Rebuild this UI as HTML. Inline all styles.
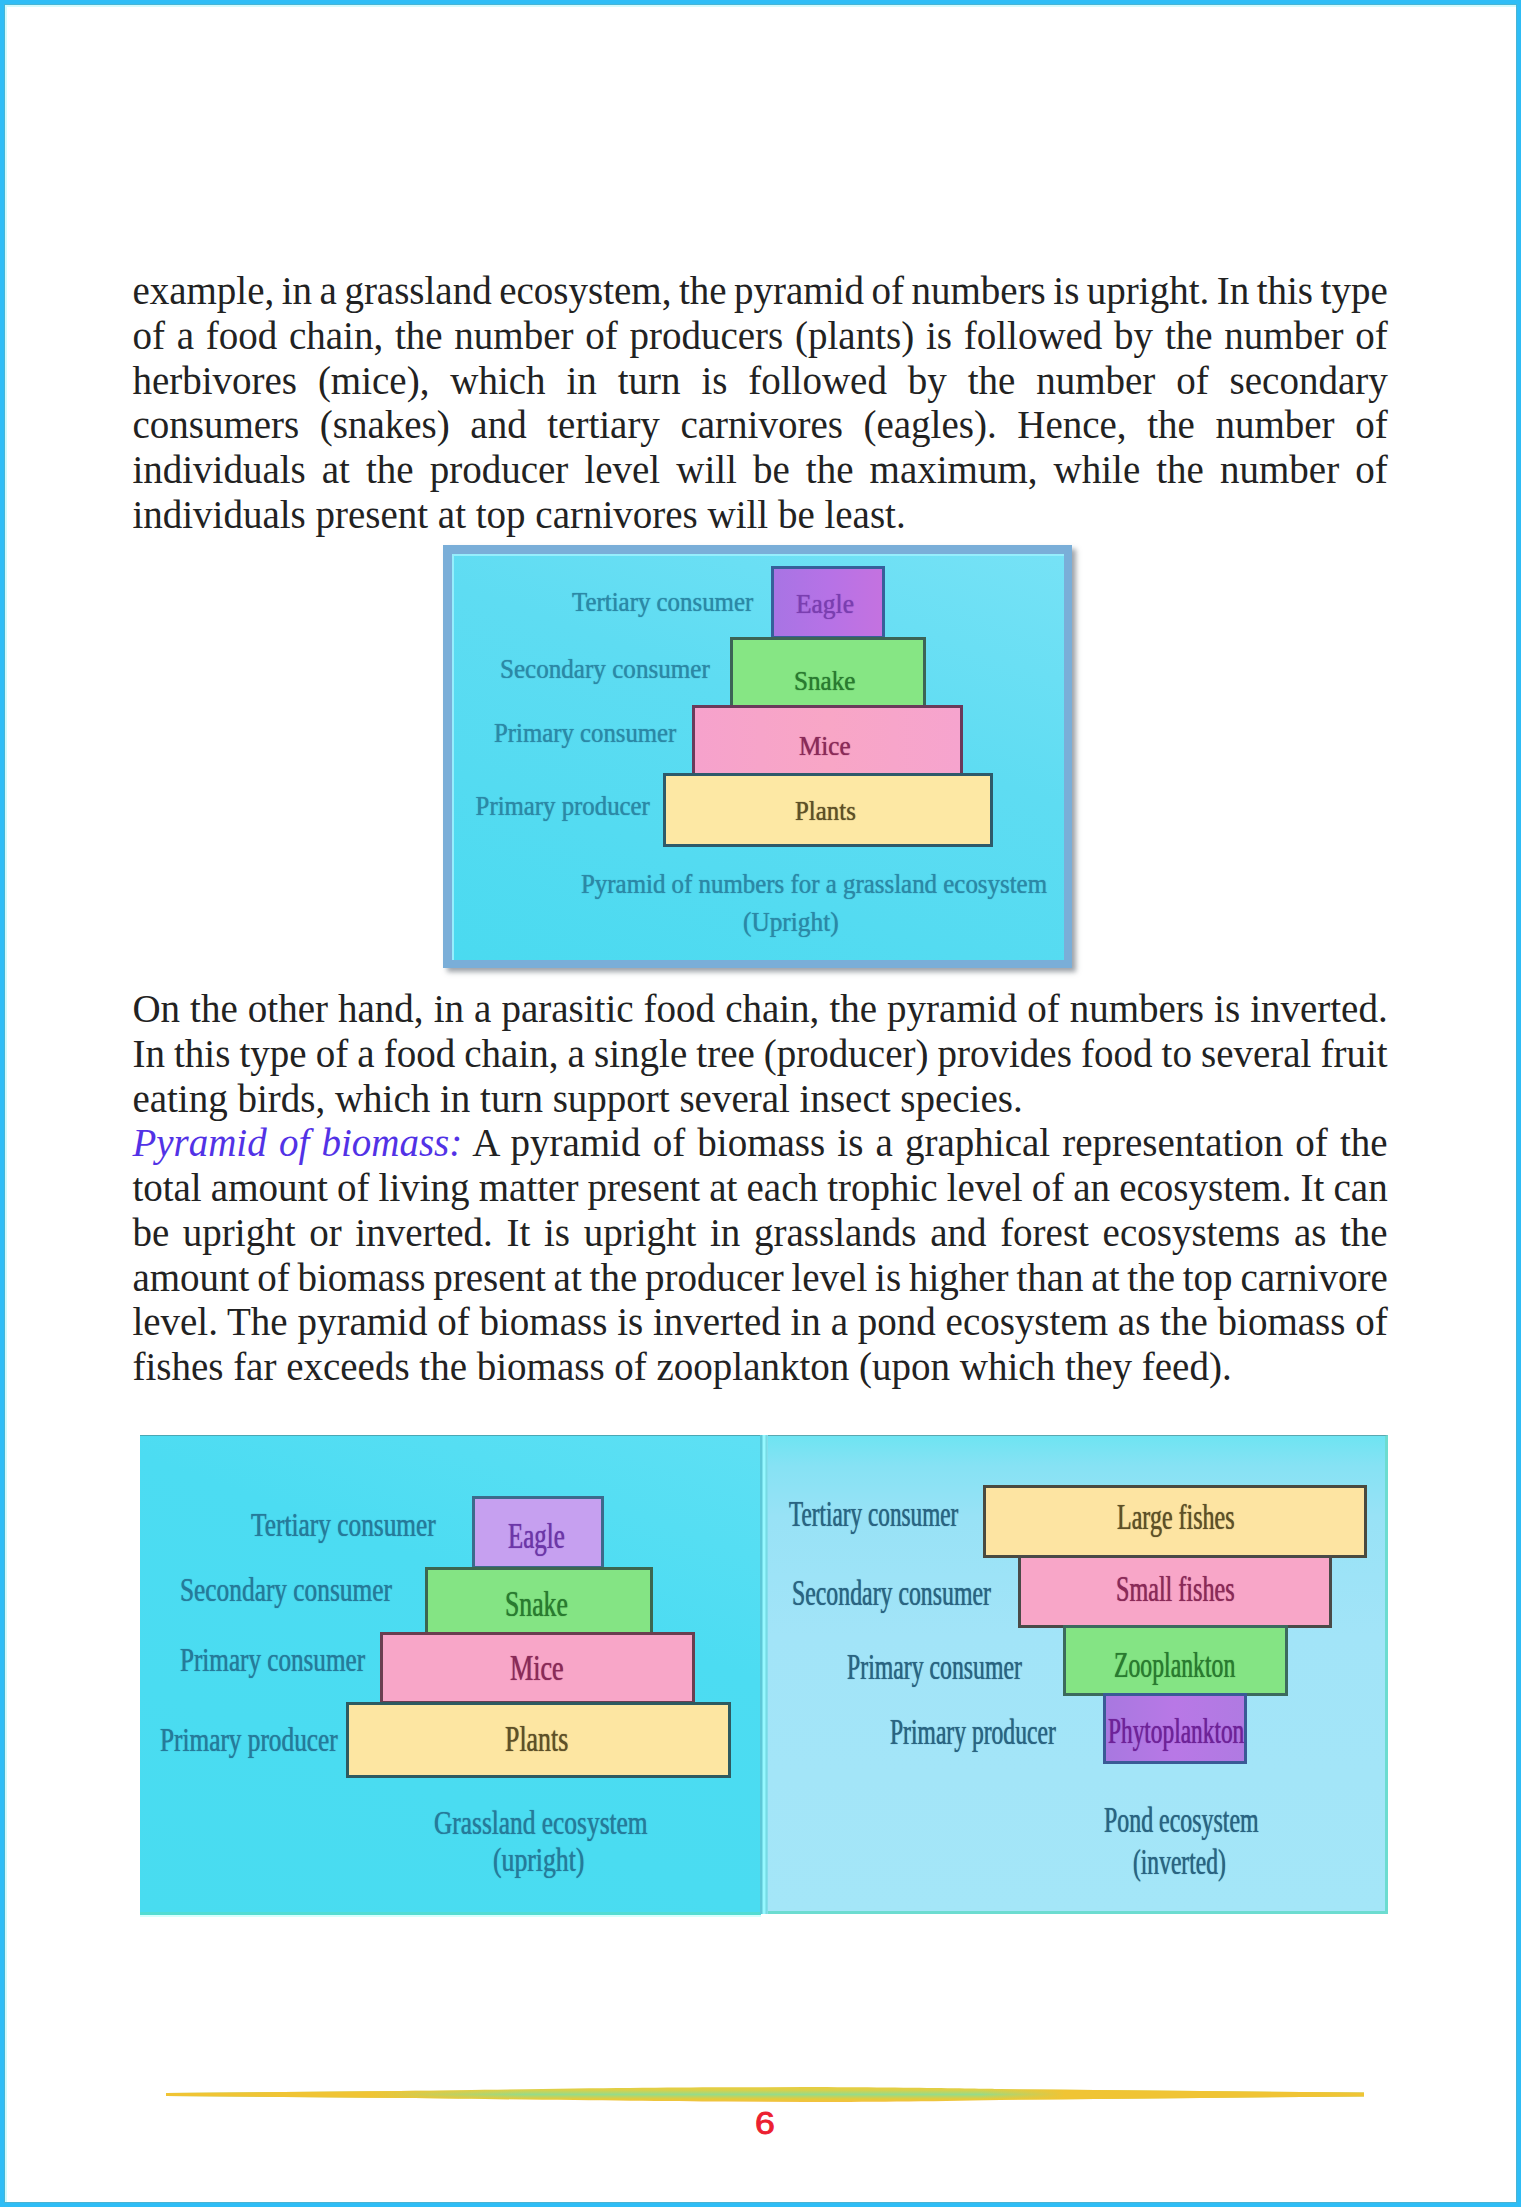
<!DOCTYPE html>
<html><head><meta charset="utf-8"><title>Pyramid of numbers and biomass</title>
<style>
html,body{margin:0;padding:0;background:#fff;}
body{width:1521px;height:2207px;position:relative;overflow:hidden;}
.pg{position:absolute;left:0;top:0;width:1511px;height:2197px;border:5px solid #2ebdf6;}
.pg:after{content:"";position:absolute;left:0;top:0;right:0;bottom:0;border-top:2px solid #d4fbfc;border-left:2px solid #d4fbfc;}
.pg:before{content:"";position:absolute;left:-1px;top:-1px;right:-1px;bottom:-1px;border:1px solid #48b4d4;}
.para{position:absolute;left:132.4px;width:1255.3px;font-family:"Liberation Serif",serif;font-size:39px;line-height:44.72px;color:#222;}
.ln{white-space:nowrap;height:44.72px;}
.hd{color:#5232e6;}
.lb{position:absolute;white-space:nowrap;font-family:"Liberation Serif",serif;transform-origin:0 0;text-shadow:0 0 1px currentColor;}
.bx{position:absolute;}
.fr1{position:absolute;left:443px;top:545px;width:629px;height:423px;background:#7aaed8;box-shadow:4px 4px 5px rgba(80,90,100,.55);}
.fr1i{position:absolute;left:9px;top:9px;width:612px;height:406px;background:linear-gradient(200deg,#76e2f6 0%,#5edcf2 40%,#4adaf0 100%);border-top:2px solid #96eefc;border-left:2px solid #96eefc;box-sizing:border-box;}
.pl{position:absolute;left:140px;top:1435px;width:621px;height:480px;background:linear-gradient(200deg,#5ee0f4 0%,#4cdcf2 35%,#48dcf0 100%);box-sizing:border-box;border-top:1px solid #4aa8b4;border-bottom:3px solid #54dcd2;box-shadow:0 2px 0 #d6fffc;}
.pr{position:absolute;left:761px;top:1435px;width:627px;height:478.5px;background:linear-gradient(180deg,#6ee4f2 0,#86e2f4 30px,#98e2f6 80px,#a2e4f8 200px,#a4e6f8 100%);box-sizing:border-box;border:3px solid #6cdcd0;border-left:none;border-top:1.5px solid #5aa8b0;}
.dv{position:absolute;left:760px;top:1435px;width:8px;height:479px;background:linear-gradient(90deg,#5cc8d8 0,#5cc8d8 2px,#96f8ff 3px,#96f8ff 5px,#72d8e0 6px,#8ae0f0 8px);}
.rule{position:absolute;left:165px;top:2084px;width:1200px;height:21px;}
.pn{position:absolute;left:754.5px;top:2109.3px;font-family:"Liberation Sans",sans-serif;font-weight:normal;font-size:30.7px;line-height:30.7px;color:#ec2030;-webkit-text-stroke:0.9px #ec2030;transform:scaleX(1.16);transform-origin:0 0;}
</style></head><body>
<div class="pg"></div>
<div class="para" style="top:269.18px">
<div class="ln" style="word-spacing:-2.251px">example, in a grassland ecosystem, the pyramid of numbers is upright. In this type</div>
<div class="ln" style="word-spacing:2.016px">of a food chain, the number of producers (plants) is followed by the number of</div>
<div class="ln" style="word-spacing:11.131px">herbivores (mice), which in turn is followed by the number of secondary</div>
<div class="ln" style="word-spacing:10.855px">consumers (snakes) and tertiary carnivores (eagles). Hence, the number of</div>
<div class="ln" style="word-spacing:6.321px">individuals at the producer level will be the maximum, while the number of</div>
<div class="ln">individuals present at top carnivores will be least.</div>
</div>
<div class="fr1"><div class="fr1i"></div></div>
<div class="bx" style="left:771.0px;top:565.5px;width:107.5px;height:67.5px;background:linear-gradient(90deg,#a874e4,#b672e6 50%,#c472e0);border:3px solid #36609a"></div>
<div class="bx" style="left:729.5px;top:636.5px;width:190.5px;height:65.5px;background:#86e684;border:3px solid #3c6456"></div>
<div class="bx" style="left:691.5px;top:705.0px;width:265.5px;height:64.5px;background:linear-gradient(90deg,#f6a2cc,#f8a6c6 50%,#f6a4ce);border:3px solid #6a3a5a"></div>
<div class="bx" style="left:662.5px;top:772.5px;width:324.0px;height:68.5px;background:#fde8a4;border:3px solid #2e5a6a"></div>
<div class="lb" style="left:571.5px;top:589.8px;font-size:24.8px;line-height:24.8px;color:#2c88a6;transform:scale(1.003,1.07);">Tertiary consumer</div>
<div class="lb" style="left:500.2px;top:656.8px;font-size:24.8px;line-height:24.8px;color:#2c88a6;transform:scale(1.012,1.07);">Secondary consumer</div>
<div class="lb" style="left:493.9px;top:720.8px;font-size:24.8px;line-height:24.8px;color:#2c88a6;transform:scale(0.999,1.07);">Primary consumer</div>
<div class="lb" style="left:475.6px;top:794.2px;font-size:24.8px;line-height:24.8px;color:#2c88a6;transform:scale(1.000,1.07);">Primary producer</div>
<div class="lb" style="left:581.3px;top:871.6px;font-size:24.8px;line-height:24.8px;color:#2c88a6;transform:scale(1.004,1.07);">Pyramid of numbers for a grassland ecosystem</div>
<div class="lb" style="left:742.9px;top:910.3px;font-size:24.8px;line-height:24.8px;color:#2c88a6;transform:scale(1.021,1.07);">(Upright)</div>
<div class="lb" style="left:795.6px;top:592.1px;font-size:24.8px;line-height:24.8px;color:#7a3eb0;transform:scale(1.027,1.07);">Eagle</div>
<div class="lb" style="left:794.2px;top:668.6px;font-size:24.8px;line-height:24.8px;color:#2a7a30;transform:scale(1.013,1.07);">Snake</div>
<div class="lb" style="left:799.2px;top:734.1px;font-size:24.8px;line-height:24.8px;color:#8a2a58;transform:scale(1.013,1.07);">Mice</div>
<div class="lb" style="left:795.1px;top:799.2px;font-size:24.8px;line-height:24.8px;color:#5e5028;transform:scale(1.003,1.07);">Plants</div>
<div class="para" style="top:987.28px">
<div class="ln" style="word-spacing:0.314px">On the other hand, in a parasitic food chain, the pyramid of numbers is inverted.</div>
<div class="ln" style="word-spacing:-0.641px">In this type of a food chain, a single tree (producer) provides food to several fruit</div>
<div class="ln">eating birds, which in turn support several insect species.</div>
<div class="ln" style="word-spacing:2.433px"><i class="hd">Pyramid of biomass:</i> A pyramid of biomass is a graphical representation of the</div>
<div class="ln" style="word-spacing:-0.608px">total amount of living matter present at each trophic level of an ecosystem. It can</div>
<div class="ln" style="word-spacing:3.914px">be upright or inverted. It is upright in grasslands and forest ecosystems as the</div>
<div class="ln" style="word-spacing:-1.926px">amount of biomass present at the producer level is higher than at the top carnivore</div>
<div class="ln" style="word-spacing:0.049px">level. The pyramid of biomass is inverted in a pond ecosystem as the biomass of</div>
<div class="ln">fishes far exceeds the biomass of zooplankton (upon which they feed).</div>
</div>
<div class="pl"></div><div class="pr"></div><div class="dv"></div>
<div class="bx" style="left:471.6px;top:1496.3px;width:126.4px;height:67.2px;background:#c6a0f0;border:3px solid #3c6a8c"></div>
<div class="bx" style="left:424.5px;top:1566.5px;width:222.5px;height:62.7px;background:#84e484;border:3px solid #3c6650"></div>
<div class="bx" style="left:380.3px;top:1632.2px;width:308.7px;height:66.3px;background:#f8a6c8;border:3px solid #6a3e50"></div>
<div class="bx" style="left:345.8px;top:1701.5px;width:379.0px;height:70.3px;background:#fde6a2;border:3px solid #2e5a60"></div>
<div class="bx" style="left:983.0px;top:1484.5px;width:377.7px;height:67.5px;background:#fde4a2;border:3px solid #4a4a40"></div>
<div class="bx" style="left:1018.0px;top:1555.0px;width:308.0px;height:66.5px;background:#f8a6c8;border:3px solid #4a4a48"></div>
<div class="bx" style="left:1062.8px;top:1624.5px;width:219.7px;height:65.5px;background:#84e484;border:3px solid #3c6a5e"></div>
<div class="bx" style="left:1103.4px;top:1693.0px;width:137.6px;height:65.0px;background:linear-gradient(90deg,#a878e0,#b878e6 50%,#b07ae2);border:3px solid #3a5a96"></div>
<div class="lb" style="left:251.1px;top:1509.1px;font-size:30px;line-height:30px;color:#267a9a;transform:scale(0.845,1.09);">Tertiary consumer</div>
<div class="lb" style="left:180.0px;top:1574.2px;font-size:30px;line-height:30px;color:#267a9a;transform:scale(0.845,1.09);">Secondary consumer</div>
<div class="lb" style="left:180.4px;top:1643.6px;font-size:30px;line-height:30px;color:#267a9a;transform:scale(0.838,1.09);">Primary consumer</div>
<div class="lb" style="left:159.9px;top:1724.2px;font-size:30px;line-height:30px;color:#267a9a;transform:scale(0.843,1.09);">Primary producer</div>
<div class="lb" style="left:434.0px;top:1806.6px;font-size:30px;line-height:30px;color:#267a9a;transform:scale(0.846,1.09);">Grassland ecosystem</div>
<div class="lb" style="left:493.0px;top:1844.4px;font-size:30px;line-height:30px;color:#267a9a;transform:scale(0.857,1.09);">(upright)</div>
<div class="lb" style="left:508.3px;top:1518.2px;font-size:32px;line-height:32px;color:#6c36a8;transform:scale(0.779,1.12);">Eagle</div>
<div class="lb" style="left:504.8px;top:1586.1px;font-size:32px;line-height:32px;color:#2a7a30;transform:scale(0.804,1.12);">Snake</div>
<div class="lb" style="left:510.2px;top:1650.2px;font-size:32px;line-height:32px;color:#8a2a58;transform:scale(0.817,1.12);">Mice</div>
<div class="lb" style="left:505.1px;top:1721.3px;font-size:32px;line-height:32px;color:#5e5028;transform:scale(0.808,1.12);">Plants</div>
<div class="lb" style="left:789.2px;top:1496.9px;font-size:34px;line-height:34px;color:#2a6482;transform:scale(0.683,1.04);">Tertiary consumer</div>
<div class="lb" style="left:792.2px;top:1575.8px;font-size:34px;line-height:34px;color:#2a6482;transform:scale(0.700,1.04);">Secondary consumer</div>
<div class="lb" style="left:846.8px;top:1650.0px;font-size:34px;line-height:34px;color:#2a6482;transform:scale(0.699,1.04);">Primary consumer</div>
<div class="lb" style="left:890.1px;top:1715.4px;font-size:34px;line-height:34px;color:#2a6482;transform:scale(0.694,1.04);">Primary producer</div>
<div class="lb" style="left:1104.3px;top:1802.9px;font-size:34px;line-height:34px;color:#2a6482;transform:scale(0.703,1.04);">Pond ecosystem</div>
<div class="lb" style="left:1132.6px;top:1845.4px;font-size:34px;line-height:34px;color:#2a6482;transform:scale(0.692,1.04);">(inverted)</div>
<div class="lb" style="left:1116.5px;top:1499.9px;font-size:33px;line-height:33px;color:#5e5028;transform:scale(0.728,1.06);">Large fishes</div>
<div class="lb" style="left:1115.6px;top:1572.0px;font-size:33px;line-height:33px;color:#8a2a58;transform:scale(0.731,1.06);">Small fishes</div>
<div class="lb" style="left:1113.6px;top:1647.9px;font-size:33px;line-height:33px;color:#2a7a30;transform:scale(0.719,1.06);">Zooplankton</div>
<div class="lb" style="left:1107.6px;top:1713.9px;font-size:33px;line-height:33px;color:#6e2298;transform:scale(0.708,1.06);">Phytoplankton</div>
<svg class="rule" width="1200" height="21" viewBox="0 0 1200 21">
<defs><linearGradient id="rg" x1="0" y1="0" x2="0" y2="1">
<stop offset="0" stop-color="#e8cc40"/><stop offset=".2" stop-color="#dccf48"/><stop offset=".5" stop-color="#96dc88"/><stop offset=".8" stop-color="#e6ca3a"/><stop offset="1" stop-color="#f4c040"/></linearGradient>
<linearGradient id="rg2" x1="0" y1="0" x2="1" y2="0">
<stop offset="0" stop-color="#f0c434"/><stop offset=".17" stop-color="#f0c434"/><stop offset=".3" stop-color="#f0c434" stop-opacity="0"/><stop offset=".68" stop-color="#f0c434" stop-opacity="0"/><stop offset=".75" stop-color="#f0c434"/><stop offset="1" stop-color="#f0c434"/></linearGradient></defs>
<path d="M1,9 L235,7 C400,4.5 480,3.6 560,3.3 L640,3 C760,3.5 835,5 835,5 L1035,7 L1199,8.5 L1199,12.5 L1035,14 L835,16 C760,17.5 700,18 640,18 L560,17.6 C480,17.3 400,16 235,14 L1,12 Z" fill="url(#rg)"/>
<path d="M1,9 L235,7 C400,4.5 480,3.6 560,3.3 L640,3 C760,3.5 835,5 835,5 L1035,7 L1199,8.5 L1199,12.5 L1035,14 L835,16 C760,17.5 700,18 640,18 L560,17.6 C480,17.3 400,16 235,14 L1,12 Z" fill="url(#rg2)"/>
</svg>
<div class="pn">6</div>
</body></html>
